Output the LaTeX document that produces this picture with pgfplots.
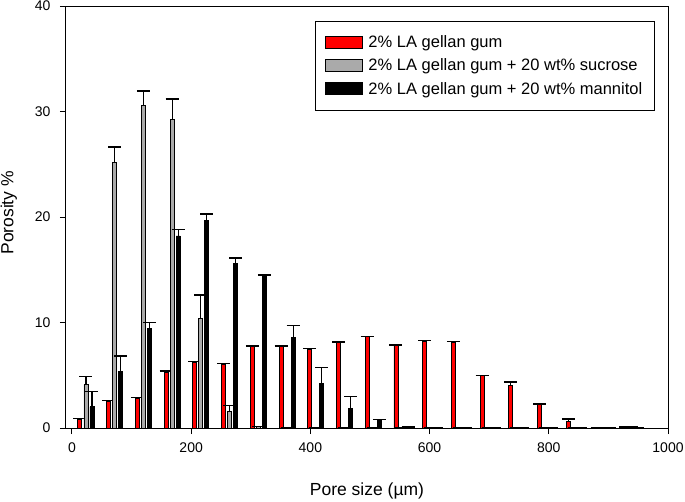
\documentclass[border=0pt]{standalone}
\usepackage{pgfplots}
\pgfplotsset{compat=1.18}
\usepackage{pgfplotstable}
\usepackage{fontspec}
\setmainfont{Liberation Sans}
\definecolor{barred}{RGB}{255,0,0}
\definecolor{bargrey}{RGB}{170,170,170}

% x = centre of the red bar (um); values in porosity %
\pgfplotstableread{
x      red   redE  grey  greyE black blackE
13.4   0.80  0.10  4.10  0.80  2.00  1.45
61.6   2.50  0.10  25.20 1.45  5.40  1.40
109.8  2.80  0.10  30.60 1.35  9.45  0.55
158.0  5.30  0.10  29.20 2.00  18.20 0.60
206.2  6.20  0.10  10.40 2.20  19.66 0.60
254.4  6.00  0.10  1.55  0.60  15.60 0.50
302.6  7.72  0.05  0.15  0.00  14.45 0.05
350.8  7.72  0.05  0.00  0.00  8.58  1.14
399.0  7.47  0.05  0.00  0.00  4.18  1.55
447.2  8.10  0.05  0.00  0.00  1.87  1.10
495.4  8.64  0.05  0.00  0.00  0.70  0.10
543.6  7.80  0.05  0.05  0.00  0.10  0.00
591.8  8.23  0.05  0.05  0.00  0.05  0.00
640.0  8.14  0.05  0.00  0.00  0.00  0.00
688.2  4.94  0.05  0.00  0.00  0.00  0.00
736.4  4.05  0.30  0.00  0.00  0.00  0.00
784.6  2.20  0.10  0.00  0.00  0.00  0.00
832.8  0.60  0.23  0.00  0.00  0.00  0.00
881.0  0.05  0.00  0.05  0.00  0.00  0.00
929.2  0.10  0.00  0.10  0.00  0.00  0.00
}\poredata

\pgfplotsset{
  mybar/.style={ybar, bar width=6.7, bar shift=0pt, draw=black, line width=0.9bp, fill=#1,
    legend image code/.code={\draw[black, line width=1bp, fill=#1] (0bp,-6bp) rectangle (37bp,6bp);},
    error bars/y dir=plus, error bars/y explicit, error bars/error mark=-,
    error bars/error bar style={line width=1.1bp, black, solid},
    error bars/error mark options={line width=1.6bp, mark size=6.5bp, black, rotate=90}},
}

\begin{document}
\begin{tikzpicture}
\useasboundingbox (-66bp,-74bp) rectangle (619bp,428bp);
\begin{axis}[
  at={(0,0)}, anchor=south west,
  scale only axis, width=602bp, height=422bp,
  xmin=-10, xmax=1000, ymin=0, ymax=40,
  xtick={0,200,...,1000}, ytick={0,10,...,40},
  minor tick num=0,
  tick align=outside, tick pos=left, major tick length=6bp,
  axis line style={line width=1bp},
  every tick/.style={black, line width=1bp},
  /pgf/number format/assume math mode=true,
  /pgf/number format/1000 sep={},
  ticklabel style={font=\fontsize{14bp}{16bp}\selectfont},
  xticklabel style={yshift=-5bp},
  yticklabel style={xshift=-6bp},
  xlabel={Pore size (µm)}, ylabel={Porosity \%},
  label style={font=\fontsize{17.5bp}{20bp}\selectfont},
  xlabel style={at={(axis description cs:0.5,-0.149)}, anchor=center},
  ylabel style={at={(axis description cs:-0.095,0.51)}, anchor=center},
  legend style={at={(axis description cs:0.978,0.965)}, anchor=north east,
    draw=black, line width=1bp, font=\fontsize{16.5bp}{19bp}\selectfont,
    inner xsep=10bp, inner ysep=12.5bp, row sep=5.8bp, column sep=3bp,
    nodes={inner sep=2bp}},
  legend cell align=left,
]
\addplot[mybar=barred] table[x=x, y=red, y error=redE] {\poredata};
\addplot[mybar=bargrey] table[x expr=\thisrow{x}+10.1, y=grey, y error=greyE] {\poredata};
\addplot[mybar=black] table[x expr=\thisrow{x}+20.2, y=black, y error=blackE] {\poredata};
\legend{2\% LA gellan gum, 2\% LA gellan gum + 20 wt\% sucrose, 2\% LA gellan gum + 20 wt\% mannitol}
\end{axis}
\end{tikzpicture}
\end{document}
